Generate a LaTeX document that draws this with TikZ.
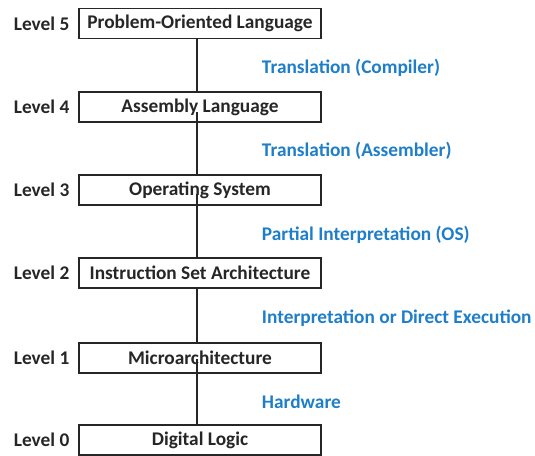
\documentclass[tikz,border=0pt]{standalone}
\usepackage{fontspec}
\setmainfont{Carlito}
\usepackage{tikz}
\usetikzlibrary{positioning}
\definecolor{transblue}{RGB}{30,126,200}

\begin{document}
\begin{tikzpicture}[x=0.75pt,y=-0.75pt,font=\bfseries\fontsize{14.5}{17}\selectfont,
	levelbox/.style={draw,line width=1pt,minimum width=181.5pt,minimum height=22.5pt,inner sep=0pt,fill=white},
	leveltag/.style={left=3pt of #1,text=black!85},
	translabel/.style={anchor=west,text=transblue},
	every path/.style={line width=0.8pt,black!85}]
	\useasboundingbox (0,0) rectangle (535,455);

	% the six levels
	\node (l5) at (200,23.5) [levelbox] {Problem-Oriented Language};
	\node (l4) at (200,107) [levelbox] {Assembly Language};
	\node (l3) at (200,190) [levelbox] {Operating System};
	\node (l2) at (200,273) [levelbox] {Instruction Set Architecture};
	\node (l1) at (200,358) [levelbox] {Microarchitecture};
	\node (l0) at (200,440) [levelbox] {Digital Logic};

	\node (t5) [leveltag=l5] {Level 5};
	\node (t4) [leveltag=l4] {Level 4};
	\node (t3) [leveltag=l3] {Level 3};
	\node (t2) [leveltag=l2] {Level 2};
	\node (t1) [leveltag=l1] {Level 1};
	\node (t0) [leveltag=l0] {Level 0};

	% vertical spine between the levels
	\draw ([xshift=-2.25pt]l5.south) -- ([xshift=-2.25pt]l4.north);
	\draw ([xshift=-2.25pt,yshift=-4pt]l4.center) -- ([xshift=-2.25pt]l3.north);
	\draw ([xshift=-2.25pt,yshift=-3pt]l3.center) -- ([xshift=-2.25pt]l2.north);
	\draw ([xshift=-2.25pt]l2.south) -- ([xshift=-2.25pt]l1.north);
	\draw ([xshift=-2.25pt,yshift=-1pt]l1.center) -- ([xshift=-2.25pt]l0.north);

	% how each level is carried out
	\node (m5) at (257,68) [translabel] {Translation (Compiler)};
	\node (m4) at (257,151) [translabel] {Translation (Assembler)};
	\node (m3) at (257,235) [translabel] {Partial Interpretation (OS)};
	\node (m2) at (257,318) [translabel] {Interpretation or Direct Execution};
	\node (m1) at (257,402) [translabel] {Hardware};
\end{tikzpicture}
\end{document}
